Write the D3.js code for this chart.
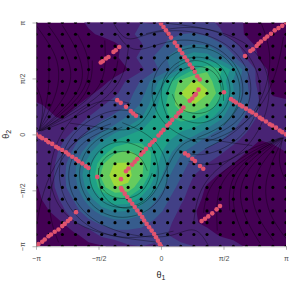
<!DOCTYPE html>
<html>
<head>
<meta charset="utf-8">
<style>
html, body { margin: 0; background: #fff; }
svg { display: block; }
text { font-family: "Liberation Sans", sans-serif; }
.tick text { font-size: 7px; fill: #4d4d4d; }
.tick line, .domain { stroke: #7f7f7f; stroke-width: 0.6; }
</style>
<script src="https://cdn.jsdelivr.net/npm/d3@7"></script>
</head>
<body>
<svg id="chart" width="299" height="291"></svg>
<script>
// all angles are in units of pi, so the panel runs from -1 to 1 on both axes
const tickValues = [-1, -0.5, 0, 0.5, 1];
const tickLabels = ["\u2212\u03c0", "\u2212\u03c0/2", "0", "\u03c0/2", "\u03c0"];

// the 20 x 20 sampling grid, black dots sit on every node
const gridTheta = [-1, -0.895, -0.789, -0.684, -0.579, -0.474, -0.368, -0.263, -0.158, -0.053,
    0.053, 0.158, 0.263, 0.368, 0.474, 0.579, 0.684, 0.789, 0.895, 1];

// density band read at each node (x10), first row is the top of the panel
const density = [
    [2, 3, 5, 8, 11, 13, 18, 19, 20, 19, 22, 22, 23, 23, 18, 13, 9, 6, 3, 2],
    [2, 3, 5, 6, 9, 11, 14, 18, 22, 26, 28, 30, 31, 28, 22, 14, 9, 5, 4, 2],
    [3, 1, 1, 2, 3, 6, 8, 13, 19, 26, 32, 39, 42, 41, 33, 25, 14, 8, 6, 3],
    [5, 2, 0, 1, 2, 4, 8, 15, 23, 31, 41, 51, 57, 55, 45, 32, 19, 9, 6, 5],
    [6, 3, 2, 0, 1, 3, 5, 10, 18, 27, 37, 52, 70, 78, 72, 56, 33, 14, 7, 6],
    [6, 3, 2, 2, 5, 7, 13, 22, 31, 45, 63, 84, 91, 88, 68, 49, 31, 15, 8, 6],
    [7, 4, 3, 5, 8, 13, 18, 26, 36, 51, 69, 90, 96, 91, 75, 51, 33, 18, 9, 8],
    [11, 9, 6, 9, 14, 19, 25, 30, 42, 56, 72, 86, 90, 82, 64, 46, 32, 20, 13, 12],
    [12, 11, 9, 14, 20, 27, 32, 41, 49, 60, 69, 75, 74, 66, 54, 39, 28, 18, 13, 12],
    [12, 12, 14, 20, 28, 36, 44, 52, 59, 66, 68, 63, 59, 50, 40, 31, 22, 13, 11, 12],
    [13, 13, 19, 28, 37, 49, 60, 66, 68, 69, 62, 52, 45, 36, 31, 23, 16, 10, 11, 12],
    [13, 14, 23, 33, 47, 63, 78, 82, 76, 68, 54, 42, 33, 27, 22, 15, 10, 7, 8, 10],
    [13, 15, 26, 39, 55, 78, 91, 91, 83, 65, 49, 35, 26, 20, 14, 10, 6, 5, 5, 7],
    [11, 16, 27, 40, 59, 82, 96, 93, 82, 61, 42, 31, 20, 13, 9, 6, 3, 2, 2, 4],
    [9, 15, 27, 37, 55, 76, 90, 88, 71, 54, 37, 26, 16, 9, 5, 3, 2, 2, 1, 2],
    [7, 14, 22, 32, 45, 60, 68, 67, 57, 42, 31, 22, 14, 7, 4, 1, 0, 0, 0, 1],
    [6, 10, 18, 27, 36, 45, 51, 50, 44, 35, 27, 18, 11, 6, 4, 2, 1, 1, 1, 1],
    [4, 8, 10, 20, 27, 32, 36, 36, 33, 28, 22, 16, 11, 8, 6, 4, 2, 2, 2, 2],
    [3, 5, 7, 9, 14, 23, 26, 26, 26, 23, 20, 16, 14, 13, 9, 7, 5, 3, 3, 3],
    [2, 3, 5, 6, 8, 9, 13, 19, 20, 19, 22, 22, 20, 19, 15, 13, 9, 6, 3, 2]
];
const bandLevels = [10, 20, 30, 40, 50, 60, 70, 80, 90];

// trajectories, each one a list of [theta1, theta2]
const fanTopLeft = [
    [[-1, 0.975], [-0.9, 0.82], [-0.82, 0.66], [-0.81, 0.44], [-0.89, 0.22], [-0.98, 0.03]],
    [[-0.9, 0.97], [-0.79, 0.8], [-0.71, 0.59], [-0.73, 0.395], [-0.86, 0.2], [-0.98, 0.03]],
    [[-0.79, 0.975], [-0.69, 0.8], [-0.61, 0.57], [-0.65, 0.38], [-0.82, 0.18], [-0.98, 0.03]],
    [[-0.67, 0.9], [-0.58, 0.71], [-0.57, 0.5], [-0.66, 0.32], [-0.81, 0.17], [-0.975, 0.03]],
    [[-0.55, 0.66], [-0.55, 0.485], [-0.63, 0.305], [-0.79, 0.155], [-0.97, 0.03]],
    [[-0.45, 0.84], [-0.44, 0.575], [-0.5, 0.395], [-0.69, 0.215], [-0.97, 0.03]],
    [[-0.345, 0.66], [-0.37, 0.485], [-0.53, 0.305], [-0.77, 0.145], [-0.95, 0.035]],
    [[-1, 0.44], [-0.93, 0.26], [-0.97, 0.055]],
    [[-0.9, 0.68], [-0.89, 0.395], [-0.95, 0.125], [-0.98, 0.03]],
    [[-0.26, 0.78], [-0.29, 0.53], [-0.42, 0.33], [-0.66, 0.16], [-0.96, 0.03]]
];
const fanBottomRight = [
    [[1, -0.93], [0.9, -0.78], [0.84, -0.62], [0.83, -0.42], [0.9, -0.21], [0.98, -0.03]],
    [[0.9, -0.95], [0.78, -0.76], [0.72, -0.57], [0.74, -0.38], [0.85, -0.19], [0.98, -0.03]],
    [[0.79, -0.97], [0.68, -0.77], [0.62, -0.56], [0.66, -0.36], [0.81, -0.17], [0.98, -0.03]],
    [[0.67, -0.92], [0.58, -0.7], [0.57, -0.48], [0.65, -0.3], [0.8, -0.15], [0.975, -0.03]],
    [[0.55, -0.68], [0.54, -0.47], [0.62, -0.29], [0.78, -0.14], [0.97, -0.03]],
    [[0.45, -0.86], [0.44, -0.57], [0.5, -0.38], [0.68, -0.2], [0.97, -0.03]],
    [[0.34, -0.7], [0.37, -0.48], [0.53, -0.29], [0.76, -0.13], [0.95, -0.035]],
    [[1, -0.42], [0.93, -0.25], [0.97, -0.055]],
    [[0.26, -0.8], [0.29, -0.53], [0.42, -0.32], [0.65, -0.15], [0.96, -0.03]]
];
const loopsUpper = [
    [[0.05, 0.38], [0.12, 0.57], [0.29, 0.63], [0.45, 0.56], [0.5, 0.38], [0.43, 0.22], [0.29, 0.17], [0.14, 0.22], [0.09, 0.36]],
    [[0.06, 0.13], [-0.03, 0.38], [0.07, 0.63], [0.29, 0.72], [0.5, 0.63], [0.58, 0.38], [0.49, 0.16], [0.29, 0.07], [0.11, 0.17]],
    [[0.29, -0.07], [0.01, 0.06], [-0.11, 0.38], [0, 0.69], [0.29, 0.82], [0.56, 0.69], [0.67, 0.38], [0.55, 0.09], [0.29, -0.03]],
    [[-0.12, 0.9], [0.29, 1], [0.68, 0.82], [0.85, 0.38], [0.68, -0.04], [0.33, -0.22], [0.14, -0.14]],
    [[0, 1], [0.74, 0.9], [0.93, 0.38], [0.73, -0.12], [0.45, -0.3], [0.22, -0.24]],
    [[0.98, 0.87], [0.93, 0.55], [0.8, 0.22], [0.58, 0.02], [0.38, -0.06]],
    [[0.8, 1], [0.9, 0.7], [0.82, 0.3], [0.62, 0.02], [0.35, -0.13]],
    [[-0.38, 0.995], [-0.32, 0.88], [-0.25, 0.84], [-0.15, 0.88], [-0.01, 0.93], [0.3, 0.93], [0.6, 0.78], [0.76, 0.45], [0.66, 0.12], [0.4, -0.02]],
    [[-0.35, 0.9], [-0.29, 0.8], [-0.2, 0.74], [-0.06, 0.79], [0.14, 0.86], [0.42, 0.82], [0.64, 0.6], [0.68, 0.3], [0.5, 0.08]],
    [[-0.73, 0.1], [-0.49, 0.065], [-0.29, 0.02], [-0.13, 0.1], [-0.03, 0.35], [0.08, 0.6], [0.3, 0.7], [0.5, 0.55], [0.5, 0.3]]
];
const loopsLower = [
    [[-0.07, -0.345], [-0.14, -0.535], [-0.31, -0.595], [-0.47, -0.525], [-0.52, -0.345], [-0.45, -0.185], [-0.31, -0.135], [-0.16, -0.185], [-0.11, -0.325]],
    [[-0.08, -0.095], [0.01, -0.345], [-0.09, -0.595], [-0.31, -0.685], [-0.52, -0.595], [-0.6, -0.345], [-0.51, -0.125], [-0.31, -0.035], [-0.13, -0.135]],
    [[-0.31, 0.105], [-0.03, -0.025], [0.09, -0.345], [-0.02, -0.655], [-0.31, -0.785], [-0.58, -0.655], [-0.69, -0.345], [-0.57, -0.055], [-0.31, 0.065]],
    [[0.1, -0.865], [-0.31, -0.965], [-0.7, -0.785], [-0.87, -0.345], [-0.7, 0.075], [-0.35, 0.255], [-0.16, 0.175]],
    [[-0.02, -0.965], [-0.76, -0.865], [-0.95, -0.345], [-0.75, 0.155], [-0.47, 0.335], [-0.24, 0.275]],
    [[-1, -0.835], [-0.95, -0.515], [-0.82, -0.185], [-0.6, 0.015], [-0.4, 0.095]],
    [[-0.82, -0.965], [-0.92, -0.665], [-0.84, -0.265], [-0.64, 0.015], [-0.37, 0.165]],
    [[0.38, -0.995], [0.32, -0.88], [0.25, -0.84], [0.15, -0.88], [0.01, -0.93], [-0.3, -0.9], [-0.62, -0.74], [-0.78, -0.41], [-0.68, -0.08], [-0.42, 0.05]],
    [[0.73, -0.1], [0.49, -0.065], [0.29, -0.02], [0.13, -0.1], [0.03, -0.35], [-0.08, -0.6], [-0.3, -0.7], [-0.5, -0.55], [-0.5, -0.3]]
];

// highlighted end points (red chains)
const chainDiagonal = [[0.28, 0.36], [0.27, 0.35], [0.25, 0.32], [0.23, 0.3], [0.18, 0.24], [0.16, 0.21], [0.14, 0.19], [0.12, 0.16],
    [0.09, 0.13], [0.07, 0.1], [0.05, 0.08], [0.02, 0.04], [0, 0.015], [-0.02, -0.01], [-0.05, -0.05], [-0.07, -0.07], [-0.09, -0.095],
    [-0.12, -0.13], [-0.14, -0.157], [-0.16, -0.18], [-0.19, -0.22], [-0.21, -0.245], [-0.23, -0.27], [-0.26, -0.305], [-0.28, -0.33], [-0.32, -0.4]];
const chainTop = [[0, 0.99], [0.02, 0.96], [0.04, 0.93], [0.06, 0.9], [0.08, 0.865], [0.11, 0.82], [0.13, 0.79], [0.15, 0.755], [0.17, 0.725],
    [0.19, 0.69], [0.21, 0.66], [0.23, 0.625], [0.25, 0.595], [0.27, 0.56], [0.29, 0.52], [0.31, 0.49], [0.3, 0.4]];
const chainBottom = [[-0.32, -0.48], [-0.31, -0.5], [-0.29, -0.53], [-0.27, -0.56], [-0.25, -0.59], [-0.23, -0.62], [-0.21, -0.65], [-0.19, -0.68],
    [-0.17, -0.71], [-0.15, -0.74], [-0.135, -0.77], [-0.115, -0.8], [-0.095, -0.83], [-0.075, -0.86], [-0.055, -0.89], [-0.04, -0.92], [-0.025, -0.95], [-0.01, -0.98], [0, -1]];
const chainLeft = [[-1, 0], [-0.97, -0.02], [-0.95, -0.035], [-0.92, -0.05], [-0.9, -0.07], [-0.87, -0.085], [-0.84, -0.11], [-0.82, -0.125], [-0.79, -0.14],
    [-0.76, -0.16], [-0.74, -0.18], [-0.71, -0.2], [-0.68, -0.22], [-0.66, -0.24], [-0.63, -0.26], [-0.6, -0.285], [-0.58, -0.3], [-0.51, -0.38]];
const chainRight = [[0.504, 0.377], [0.56, 0.315], [0.58, 0.3], [0.6, 0.285], [0.63, 0.265], [0.65, 0.25], [0.68, 0.23], [0.71, 0.21], [0.73, 0.195], [0.76, 0.175],
    [0.79, 0.15], [0.81, 0.135], [0.84, 0.115], [0.87, 0.09], [0.89, 0.08], [0.92, 0.06], [0.95, 0.035], [0.97, 0.02], [1, 0]];
const chainTopRight = [[0.672, 0.7], [0.715, 0.745], [0.735, 0.76], [0.765, 0.79], [0.78, 0.81], [0.8, 0.83], [0.83, 0.855], [0.85, 0.875], [0.88, 0.9], [0.91, 0.93], [0.94, 0.95], [0.97, 0.97], [1, 1]];
const chainBottomLeft = [[-1, -1], [-0.98, -0.98], [-0.95, -0.96], [-0.93, -0.94], [-0.9, -0.91], [-0.88, -0.895], [-0.85, -0.87], [-0.82, -0.85], [-0.79, -0.82], [-0.77, -0.8], [-0.745, -0.775], [-0.725, -0.755], [-0.68, -0.695]];
const chainShort = [
    [-0.482, 0.642], [-0.466, 0.654], [-0.44, 0.678], [-0.42, 0.692], [-0.38, 0.737], [-0.362, 0.752], [-0.334, 0.781],
    [-0.35, 0.306], [-0.322, 0.282], [-0.28, 0.246], [-0.242, 0.208], [-0.222, 0.187], [-0.2, 0.166],
    [0.325, -0.775], [0.352, -0.754], [0.378, -0.733], [0.41, -0.706], [0.445, -0.67], [0.472, -0.64],
    [0.192, -0.17], [0.218, -0.188], [0.25, -0.218], [0.272, -0.239], [0.312, -0.283], [0.338, -0.307]
];

const panel = { left: 36, right: 286, top: 22.5, bottom: 246.25 };
const svg = d3.select("#chart");

const x = d3.scaleLinear().domain([-1, 1]).range([panel.left, panel.right]);
const y = d3.scaleLinear().domain([-1, 1]).range([panel.bottom, panel.top]);

svg.append("clipPath").attr("id", "panel-clip")
    .append("rect")
    .attr("x", panel.left).attr("y", panel.top)
    .attr("width", panel.right - panel.left).attr("height", panel.bottom - panel.top);

const plot = svg.append("g").attr("clip-path", "url(#panel-clip)");

const bandColor = k => d3.interpolateViridis(k / 10.5);

// lowest band is just the background of the panel
plot.append("rect")
    .attr("x", panel.left).attr("y", panel.top)
    .attr("width", panel.right - panel.left).attr("height", panel.bottom - panel.top)
    .attr("fill", bandColor(0));

const contours = d3.contours()
    .size([gridTheta.length, gridTheta.length])
    .thresholds(bandLevels)(density.flat());

// contour coordinates come back in grid cells, node i sits at i + 0.5
const cellToX = d3.scaleLinear().domain([0.5, gridTheta.length - 0.5]).range([panel.left, panel.right]);
const cellToY = d3.scaleLinear().domain([0.5, gridTheta.length - 0.5]).range([panel.top, panel.bottom]);
const bandPath = d3.geoPath(d3.geoTransform({
    point: function (px, py) { this.stream.point(cellToX(px), cellToY(py)); }
}));

plot.selectAll("path.band")
    .data(contours)
    .enter()
    .append("path")
    .attr("class", "band")
    .attr("d", bandPath)
    .attr("fill", (d, i) => bandColor(i + 1));

const trajectoryLine = d3.line()
    .x(d => x(d[0]))
    .y(d => y(d[1]))
    .curve(d3.curveBasis);

plot.selectAll("path.trajectory")
    .data([...fanTopLeft, ...fanBottomRight, ...loopsUpper, ...loopsLower])
    .enter()
    .append("path")
    .attr("class", "trajectory")
    .attr("d", trajectoryLine)
    .attr("fill", "none")
    .attr("stroke", "#000")
    .attr("stroke-width", 0.45)
    .attr("stroke-opacity", 0.75);

plot.selectAll("circle.node")
    .data(d3.cross(gridTheta, gridTheta))
    .enter()
    .append("circle")
    .attr("class", "node")
    .attr("cx", d => x(d[0]))
    .attr("cy", d => y(d[1]))
    .attr("r", 1.55)
    .attr("fill", "#000");

plot.selectAll("circle.chain")
    .data([...chainDiagonal, ...chainTop, ...chainBottom, ...chainLeft, ...chainRight, ...chainTopRight, ...chainBottomLeft, ...chainShort])
    .enter()
    .append("circle")
    .attr("class", "chain")
    .attr("cx", d => x(d[0]))
    .attr("cy", d => y(d[1]))
    .attr("r", 2.3)
    .attr("fill", "#e1546f");

const labelFor = v => tickLabels[tickValues.indexOf(v)];

svg.append("g")
    .attr("transform", `translate(0,${panel.bottom})`)
    .call(d3.axisBottom(x).tickValues(tickValues).tickFormat(labelFor).tickSize(3.5).tickSizeOuter(0).tickPadding(6));

const yAxis = svg.append("g")
    .attr("transform", `translate(${panel.left},0)`)
    .call(d3.axisLeft(y).tickValues(tickValues).tickFormat(labelFor).tickSize(3.5).tickSizeOuter(0).tickPadding(0));

yAxis.selectAll(".tick text")
    .attr("transform", "rotate(-90)")
    .attr("text-anchor", "middle")
    .attr("x", 0)
    .attr("y", -11)
    .attr("dy", 0);

const xTitle = svg.append("text")
    .attr("x", x(0)).attr("y", 278)
    .attr("text-anchor", "middle")
    .attr("font-size", 9)
    .attr("fill", "#222")
    .text("\u03b8");
xTitle.append("tspan").attr("dy", 2).attr("font-size", 7).text("1");

const yTitle = svg.append("text")
    .attr("transform", `translate(9,${y(0)}) rotate(-90)`)
    .attr("text-anchor", "middle")
    .attr("font-size", 9)
    .attr("fill", "#222")
    .text("\u03b8");
yTitle.append("tspan").attr("dy", 2).attr("font-size", 7).text("2");
</script>
</body>
</html>
